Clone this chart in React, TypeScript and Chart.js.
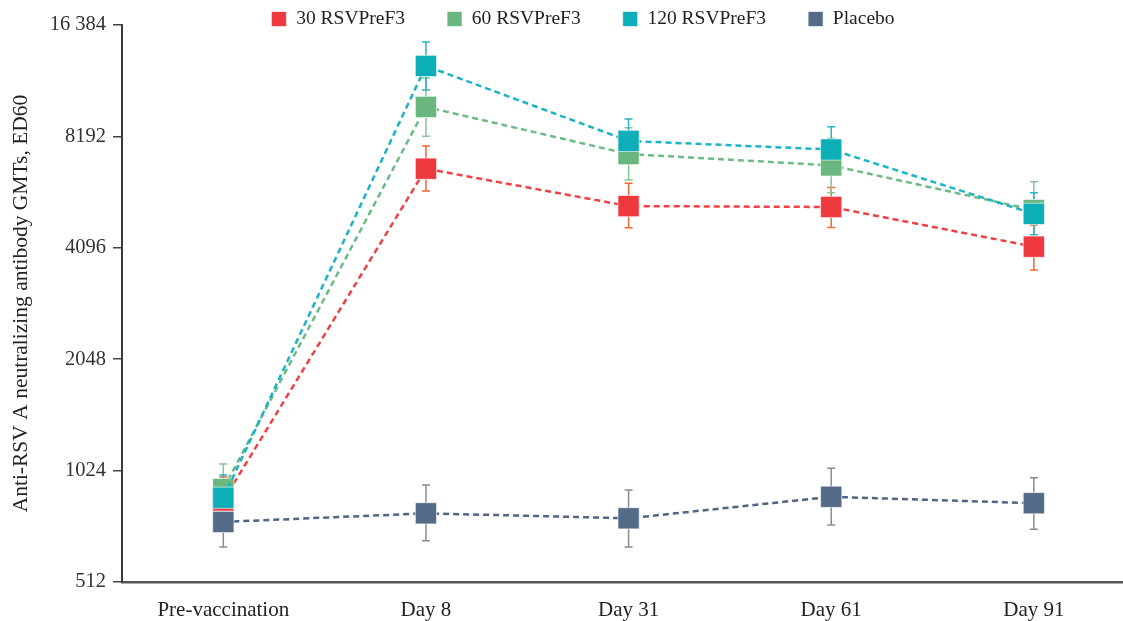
import React, { useEffect, useRef } from 'react';
import Chart from 'chart.js/auto';

const categories = ['Pre-vaccination', 'Day 8', 'Day 31', 'Day 61', 'Day 91'];
const yTickValues = [512, 1024, 2048, 4096, 8192, 16384];
const yTickLabels = ['512', '1024', '2048', '4096', '8192', '16 384'];
const seriesNames = ['30 RSVPreF3', '60 RSVPreF3', '120 RSVPreF3', 'Placebo'];

const gmt30 = [850, 6700, 5310, 5280, 4125];
const low30 = [735, 5830, 4640, 4650, 3570];
const high30 = [984, 7715, 6125, 5965, 4720];

const gmt60 = [913, 9840, 7340, 6840, 5180];
const low60 = [781, 8200, 6245, 5770, 4330];
const high60 = [1067, 11780, 8650, 8090, 6180];

const gmt120 = [865, 12700, 7965, 7550, 5060];
const low120 = [748, 10930, 6950, 6560, 4440];
const high120 = [996, 14750, 9130, 8700, 5770];

const gmtPlacebo = [744, 785, 761, 870, 836];
const lowPlacebo = [637, 662, 637, 730, 711];
const highPlacebo = [869, 936, 908, 1039, 980];

const markerColors = ['#EE3A3F', '#69B77F', '#0CAEB8', '#546B87'];
const lineColors = ['#EF4046', '#6DBB84', '#1AB4C6', '#4E6585'];
const errorColors = ['#F26535', '#84C696', '#2AB4C4', '#8C8C8C'];

const values = [gmt30, gmt60, gmt120, gmtPlacebo];
const lows = [low30, low60, low120, lowPlacebo];
const highs = [high30, high60, high120, highPlacebo];

const FONT = '"Liberation Serif", "Times New Roman", serif';
const LEGEND_CENTER_X = 583;
const LEGEND_CENTER_Y = 19;
const LEGEND_FONT = 19.5;

const errorBarPlugin = {
  id: 'errorBars',
  beforeDatasetsDraw(chart: any) {
    const { ctx } = chart;
    const x = chart.scales.x;
    const y = chart.scales.y;
    ctx.save();
    lows.forEach((lo, si) => {
      ctx.strokeStyle = errorColors[si];
      ctx.lineWidth = 1.5;
      lo.forEach((l, i) => {
        const px = x.getPixelForValue(i);
        const pLo = y.getPixelForValue(l);
        const pHi = y.getPixelForValue(highs[si][i]);
        ctx.beginPath();
        ctx.moveTo(px, pLo);
        ctx.lineTo(px, pHi);
        ctx.moveTo(px - 4, pLo);
        ctx.lineTo(px + 4, pLo);
        ctx.moveTo(px - 4, pHi);
        ctx.lineTo(px + 4, pHi);
        ctx.stroke();
      });
    });
    ctx.restore();
  },
};

const legendShiftPlugin = {
  id: 'legendShift',
  afterLayout(chart: any) {
    const lg = chart.legend;
    if (!lg) return;
    const P = lg.options.labels.padding;
    const newTop = LEGEND_CENTER_Y - LEGEND_FONT / 2 - P;
    lg.top = newTop;
    lg.bottom = newTop + P + LEGEND_FONT + 20;
    lg.height = lg.bottom - lg.top;
    const dx = LEGEND_CENTER_X - (lg.left + lg.right) / 2;
    lg.left += dx;
    lg.right += dx;
  },
};

export default function App() {
  const canvasRef = useRef<HTMLCanvasElement | null>(null);

  useEffect(() => {
    if (!canvasRef.current) return;
    Chart.defaults.font.family = FONT;
    Chart.defaults.color = '#333';

    const datasets = seriesNames.map((name, si) => ({
      label: name,
      data: values[si].map((v, i) => ({ x: i, y: v })),
      borderColor: lineColors[si],
      backgroundColor: markerColors[si],
      borderWidth: 2.5,
      borderDash: [6, 4],
      pointStyle: 'rect',
      pointRadius: 15,
      pointHoverRadius: 15,
      pointBackgroundColor: markerColors[si],
      pointBorderColor: 'rgba(255,255,255,0.6)',
      pointBorderWidth: 1,
      tension: 0,
      clip: false,
      order: 4 - si,
    }));

    const chart = new Chart(canvasRef.current, {
      type: 'line',
      data: { datasets },
      plugins: [errorBarPlugin, legendShiftPlugin],
      options: {
        responsive: false,
        animation: false,
        layout: { autoPadding: false, padding: { top: 24, left: 0, right: 0, bottom: 0 } },
        plugins: {
          tooltip: { enabled: false },
          legend: {
            display: true,
            position: 'top',
            maxHeight: 1,
            labels: {
              color: '#222',
              font: { size: LEGEND_FONT, family: FONT },
              boxWidth: 15,
              boxHeight: 15,
              padding: 42,
              sort: (a: any, b: any) => a.datasetIndex - b.datasetIndex,
              generateLabels: (c: any) =>
                Chart.defaults.plugins.legend.labels.generateLabels(c).map((l: any) => ({
                  ...l,
                  fillStyle: markerColors[l.datasetIndex],
                  strokeStyle: 'rgba(255,255,255,0.6)',
                  lineWidth: 1,
                  lineDash: [],
                })),
            },
          },
        },
        scales: {
          x: {
            type: 'linear',
            min: -0.5,
            max: 4.44,
            afterBuildTicks: (scale: any) => {
              scale.ticks = categories.map((_, i) => ({ value: i }));
            },
            afterFit: (scale: any) => {
              scale.height = 39;
            },
            ticks: {
              autoSkip: false,
              maxRotation: 0,
              padding: 16,
              color: '#222',
              font: { size: 21, family: FONT },
              callback: (v: any) => categories[Math.round(Number(v))] ?? '',
            },
            grid: { display: false, drawTicks: false },
            border: { display: true, color: '#555', width: 2.5 },
          },
          y: {
            type: 'logarithmic',
            min: 512,
            max: 16384,
            afterBuildTicks: (scale: any) => {
              scale.ticks = yTickValues.map((v) => ({ value: v }));
            },
            afterFit: (scale: any) => {
              scale.width = 122;
            },
            ticks: {
              padding: 7,
              color: '#333',
              font: { size: 20.5, family: FONT },
              callback: (_v: any, i: number) => yTickLabels[i],
            },
            grid: {
              display: true,
              drawOnChartArea: false,
              drawTicks: true,
              tickLength: 9,
              color: '#444',
              lineWidth: 1.5,
            },
            border: { display: true, color: '#3a3a3a', width: 2 },
            title: {
              display: true,
              text: 'Anti-RSV A neutralizing antibody GMTs, ED60',
              color: '#222',
              font: { size: 21.5, family: FONT },
              padding: { top: 8, bottom: 0 },
            },
          },
        },
      } as any,
    });

    return () => chart.destroy();
  }, []);

  return (
    <div style={{ position: 'absolute', left: 0, top: 0, width: 1123, height: 621, background: '#fff' }}>
      <canvas ref={canvasRef} width={1123} height={621} style={{ display: 'block' }} />
    </div>
  );
}
